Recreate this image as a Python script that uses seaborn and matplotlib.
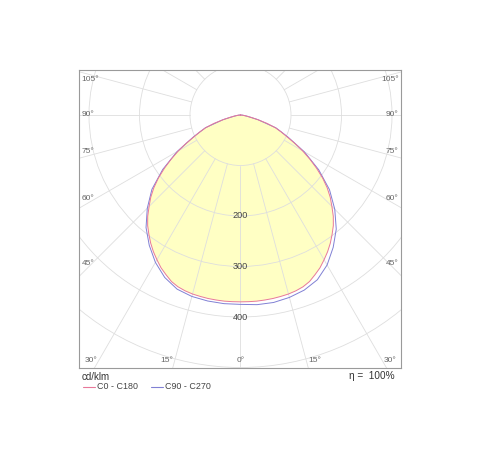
import numpy as np
import pandas as pd
import matplotlib.pyplot as plt
from matplotlib.lines import Line2D
import seaborn as sns

gamma_red = [0, 2.5, 5, 7.5, 10, 12.5, 15, 17.5, 20, 22.5, 25, 27.5, 30, 32.5, 35, 37.5, 40,
             42.5, 45, 47.5, 50, 52.5, 55, 57.5, 60, 62.5, 65, 67.5, 70, 72.5, 75, 77.5, 80,
             82.5, 85, 87.5, 90]
c0_c180 = [370, 370, 370, 369.5, 369, 368, 367, 365, 362, 357, 349, 341, 331, 321, 310, 298, 286,
           272, 256, 241, 224, 205, 184, 163, 142, 121, 101, 87, 73, 55, 35, 21, 12,
           7, 4, 2, 0]
gamma_blue = [0, 5, 10, 15, 20, 25, 30, 35, 40, 45, 50, 55, 60, 65, 70, 75, 80, 85, 90]
c90_c270_left = [375, 375, 374, 372, 367, 355, 337, 315, 291, 261, 229, 188, 145, 103, 74, 36, 12, 4, 0]
c90_c270_right = [376, 377, 377, 374, 369, 360, 343, 320, 295, 264, 230, 189, 146, 104, 75, 36, 12, 4, 0]

ring_values = [100, 200, 300, 400, 500, 600, 700]
ring_labels = [200, 300, 400]
side_angles = [105, 90, 75, 60, 45]
bottom_angles = [30, 15, 0]
legend_names = ["C0 - C180", "C90 - C270"]

RED = "#e8789a"
BLUE = "#8080d4"
FILL = "#ffffc4"
GRID = "#dedede"

sns.set_theme(style="white")
plt.rcParams["font.family"] = ["Liberation Sans", "DejaVu Sans"]

W, H = 481, 462
fig = plt.figure(figsize=(W / 100, H / 100), dpi=100)

# caixa do diagrama em pixels
left, right, top, bottom = 78.5, 401.5, 69.5, 368.0
cx, cy, scale = 240.5, 115.0, 0.505  # centro e px por cd/klm
ax = fig.add_axes([left / W, 1 - bottom / H, (right - left) / W, (bottom - top) / H])
ax.set_xlim((left - cx) / scale, (right - cx) / scale)
ax.set_ylim(-(bottom - cy) / scale, (cy - top) / scale)
ax.set_xticks([])
ax.set_yticks([])
for sp in ax.spines.values():
    sp.set_color("#9a9a9a")
    sp.set_linewidth(0.8)


def to_xy(angles, values, side):
    a = np.radians(angles)
    v = np.asarray(values, dtype=float)
    return side * v * np.sin(a), -v * np.cos(a)


def curve(angles, left_vals, right_vals):
    xl, yl = to_xy(angles, left_vals, -1)
    xr, yr = to_xy(angles, right_vals, 1)
    x = np.concatenate([xl[::-1], xr[1:]])
    y = np.concatenate([yl[::-1], yr[1:]])
    return pd.DataFrame({"x": x, "y": y})


red_df = curve(gamma_red, c0_c180, c0_c180)
blue_df = curve(gamma_blue, c90_c270_left, c90_c270_right)

# preenchimento amarelo
ax.fill(red_df["x"], red_df["y"], color=FILL, lw=0, zorder=1)

# grade polar
for r in ring_values:
    ax.add_patch(plt.Circle((0, 0), r, fill=False, ec=GRID, lw=0.6, zorder=2))
for g in range(-180, 181, 15):
    a = np.radians(g)
    ax.plot([100 * np.sin(a), 1500 * np.sin(a)], [-100 * np.cos(a), -1500 * np.cos(a)],
            color=GRID, lw=0.6, zorder=2)

# curvas
sns.lineplot(data=blue_df, x="x", y="y", sort=False, estimator=None, color=BLUE,
             lw=0.7, ax=ax, zorder=3)
sns.lineplot(data=red_df, x="x", y="y", sort=False, estimator=None, color=RED,
             lw=0.7, ax=ax, zorder=4)
ax.set_xlabel("")
ax.set_ylabel("")

# rotulos dos aneis
for r in ring_labels:
    ax.text(0, -r, str(r), ha="center", va="center", fontsize=6.6, color="#444444", zorder=5)

# rotulos de angulo laterais
lab_x = (88 - cx) / scale
for g in side_angles:
    a = np.radians(g)
    y_ray = -abs(lab_x) * np.cos(a) / np.sin(a)
    if g < 90:
        va, dy = "bottom", 0.5
    elif g > 90:
        va, dy = "top", -1.5
    else:
        va, dy = "center", 0
    for side in (-1, 1):
        xe = -315 if side < 0 else 313
        ax.annotate(f"{g}°", xy=(xe, y_ray), xytext=(0, dy), textcoords="offset points",
                    ha="left" if side < 0 else "right", va=va, fontsize=6.0, color="#666666")

# rotulos de angulo inferiores
y_b = -(360 - cy) / scale
for g in bottom_angles:
    xr = abs(y_b) * np.tan(np.radians(g))
    if g == 0:
        ax.text(0, y_b, "0°", ha="center", va="center", fontsize=6.0, color="#666666")
        continue
    for side in (-1, 1):
        ax.annotate(f"{g}°", xy=(side * xr, y_b), xytext=(side * 1.5, 0),
                    textcoords="offset points", ha="right" if side < 0 else "left",
                    va="center", fontsize=6.0, color="#666666")

# textos de baixo e legenda
fig.text(82 / W, 1 - 376.5 / H, "cd/klm", ha="left", va="center", fontsize=7.0, color="#333333")
fig.text(395 / W, 1 - 376 / H, "η =  100%", ha="right", va="center", fontsize=7.2, color="#333333")
ly = 1 - 386.5 / H
for (x0, x1, tx), col, name in zip([(83, 95, 97), (151, 163, 165)], [RED, BLUE], legend_names):
    fig.add_artist(Line2D([x0 / W, x1 / W], [ly, ly], transform=fig.transFigure, color=col, lw=0.8))
    fig.text(tx / W, ly, name, ha="left", va="center", fontsize=6.4, color="#444444")

fig.savefig("out.png", dpi=100)
